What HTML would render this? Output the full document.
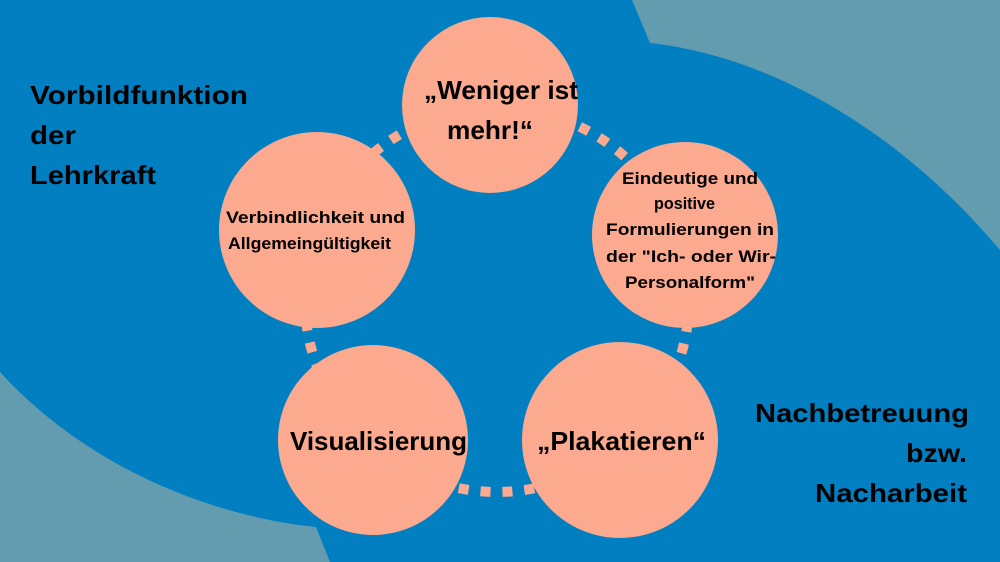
<!DOCTYPE html>
<html><head><meta charset="utf-8"><style>
html,body{margin:0;padding:0;width:1000px;height:562px;overflow:hidden;background:#639caf}
svg{display:block}
text{font-family:"Liberation Sans",sans-serif;font-weight:bold;fill:#000}
</style></head><body>
<svg width="1000" height="562" viewBox="0 0 1000 562" xmlns="http://www.w3.org/2000/svg">
<rect width="1000" height="562" fill="#639caf"/>
<path d="M0,0 H632 L650,43 C760,55 890,120 1000,250 V562 H330 L316,527 C200,515 80,460 0,372 Z" fill="#017fc1"/>
<circle cx="497" cy="300" r="192" stroke="#fba98f" stroke-width="10" stroke-dasharray="10,12" fill="none"/>
<g fill="#fba98f">
<circle cx="490" cy="105" r="88"/>
<circle cx="317" cy="230" r="98"/>
<circle cx="685" cy="235" r="93"/>
<circle cx="373" cy="440" r="95"/>
<circle cx="620" cy="440" r="98"/>
</g>
<g font-size="26">
<text x="424" y="99" textLength="154" lengthAdjust="spacingAndGlyphs">„Weniger ist</text>
<text x="447" y="139" textLength="86" lengthAdjust="spacingAndGlyphs">mehr!“</text>
<text x="290" y="450" textLength="177" lengthAdjust="spacingAndGlyphs">Visualisierung</text>
<text x="537" y="450" textLength="169" lengthAdjust="spacingAndGlyphs">„Plakatieren“</text>
<text x="30" y="104" textLength="218" lengthAdjust="spacingAndGlyphs">Vorbildfunktion</text>
<text x="30" y="144" textLength="46" lengthAdjust="spacingAndGlyphs">der</text>
<text x="30" y="184" textLength="126" lengthAdjust="spacingAndGlyphs">Lehrkraft</text>
<text x="755" y="422" textLength="214" lengthAdjust="spacingAndGlyphs">Nachbetreuung</text>
<text x="906" y="462" textLength="61" lengthAdjust="spacingAndGlyphs">bzw.</text>
<text x="815" y="502" textLength="152" lengthAdjust="spacingAndGlyphs">Nacharbeit</text>
</g>
<g font-size="17">
<text x="226" y="223" textLength="179" lengthAdjust="spacingAndGlyphs">Verbindlichkeit und</text>
<text x="228" y="249" textLength="163" lengthAdjust="spacingAndGlyphs">Allgemeingültigkeit</text>
<text x="622" y="184" textLength="136" lengthAdjust="spacingAndGlyphs">Eindeutige und</text>
<text x="654" y="209" textLength="61" lengthAdjust="spacingAndGlyphs">positive</text>
<text x="606" y="235" textLength="168" lengthAdjust="spacingAndGlyphs">Formulierungen in</text>
<text x="606" y="262" textLength="170" lengthAdjust="spacingAndGlyphs">der "Ich- oder Wir-</text>
<text x="625" y="288" textLength="130" lengthAdjust="spacingAndGlyphs">Personalform"</text>
</g>
</svg>
</body></html>
